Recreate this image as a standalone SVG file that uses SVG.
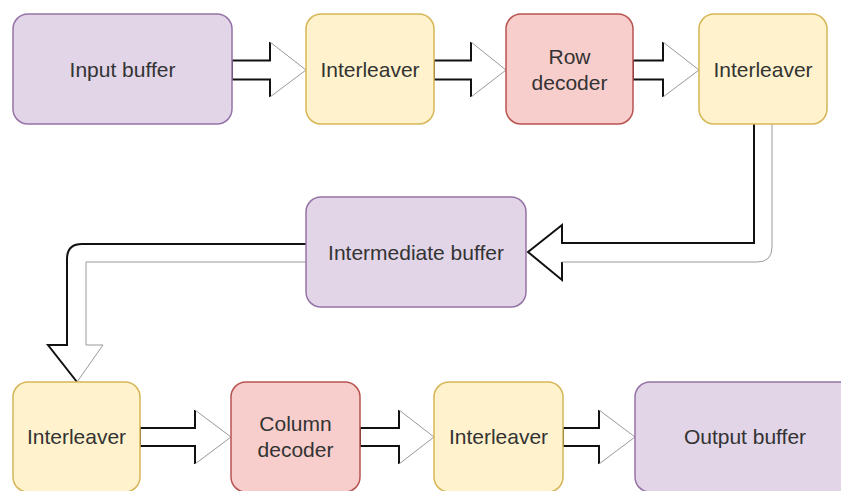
<svg xmlns="http://www.w3.org/2000/svg" width="841" height="491" viewBox="0 0 841 491">
  <style>
    .purple { fill: #e1d5e7; stroke: #9673a6; stroke-width: 1.5; }
    .yellow { fill: #fff2cc; stroke: #d6b656; stroke-width: 1.5; }
    .red { fill: #f8cecc; stroke: #b85450; stroke-width: 1.5; }
    .label { font-family: "Liberation Sans", Arial, sans-serif; font-size: 21px; fill: #333333; text-anchor: middle; }
    .body { fill: #ffffff; stroke: none; }
    .edge { fill: none; stroke: #111111; stroke-width: 2; stroke-linejoin: miter; }
    .soft { fill: none; stroke: #9a9a9a; stroke-width: 1; }
  </style>

  <!-- connectors: hollow block arrows -->
  <g id="connectors">
    <!-- Input buffer -> Interleaver -->
    <g id="a1">
      <path class="body" d="M232,60.5 H270 V42 L306,70 L270,97 V79.5 H232 Z"/>
      <path class="edge" d="M232,79.5 V60.5 H270 V42 M270,97 V79.5 H232"/>
      <path class="soft" d="M270,42 L306,70 L270,97"/>
    </g>
    <!-- Interleaver -> Row decoder -->
    <g id="a2">
      <path class="body" d="M434,60.5 H471 V42 L506,70 L471,97 V79.5 H434 Z"/>
      <path class="edge" d="M434,79.5 V60.5 H471 V42 M471,97 V79.5 H434"/>
      <path class="soft" d="M471,42 L506,70 L471,97"/>
    </g>
    <!-- Row decoder -> Interleaver -->
    <g id="a3">
      <path class="body" d="M633,60.5 H663 V42 L699,70 L663,97 V79.5 H633 Z"/>
      <path class="edge" d="M633,79.5 V60.5 H663 V42 M663,97 V79.5 H633"/>
      <path class="soft" d="M663,42 L699,70 L663,97"/>
    </g>
    <!-- Interleaver -> Intermediate buffer -->
    <g id="a4">
      <path class="body" d="M754,124 V243 H562 V225 L528,252 L562,280 V262 H757 Q772,262 772,247 V124 Z"/>
      <path class="edge" d="M754,124 V243 H562 V225 L528,252 L562,280 V262"/>
      <path class="soft" d="M562,262 H757 Q772,262 772,247 V124"/>
    </g>
    <!-- Intermediate buffer -> Interleaver -->
    <g id="a5">
      <path class="body" d="M306,244 H82 Q67,244 67,259 V345 H48 L77,382 L103,345 H86 V262 H306 Z"/>
      <path class="edge" d="M306,244 H82 Q67,244 67,259 V345 H48 L77,382"/>
      <path class="soft" d="M77,382 L103,345 H86 V262 H306"/>
    </g>
    <!-- Interleaver -> Column decoder -->
    <g id="a6">
      <path class="body" d="M140,428 H195 V410 L231,437 L195,464 V446 H140 Z"/>
      <path class="edge" d="M140,446 V428 H195 V410 M195,464 V446 H140"/>
      <path class="soft" d="M195,410 L231,437 L195,464"/>
    </g>
    <!-- Column decoder -> Interleaver -->
    <g id="a7">
      <path class="body" d="M360,428 H399 V410 L434,437 L399,464 V446 H360 Z"/>
      <path class="edge" d="M360,446 V428 H399 V410 M399,464 V446 H360"/>
      <path class="soft" d="M399,410 L434,437 L399,464"/>
    </g>
    <!-- Interleaver -> Output buffer -->
    <g id="a8">
      <path class="body" d="M563,428 H599 V410 L635,437 L599,464 V446 H563 Z"/>
      <path class="edge" d="M563,446 V428 H599 V410 M599,464 V446 H563"/>
      <path class="soft" d="M599,410 L635,437 L599,464"/>
    </g>
  </g>

  <!-- top row -->
  <g id="input-buffer">
    <rect class="purple" x="13" y="14" width="219" height="110" rx="15"/>
    <text class="label" x="122.5" y="77">Input buffer</text>
  </g>
  <g id="interleaver-1">
    <rect class="yellow" x="306" y="14" width="128" height="110" rx="15"/>
    <text class="label" x="370" y="77">Interleaver</text>
  </g>
  <g id="row-decoder">
    <rect class="red" x="506" y="14" width="127" height="110" rx="15"/>
    <text class="label" x="569.5" y="64">Row</text>
    <text class="label" x="569.5" y="90">decoder</text>
  </g>
  <g id="interleaver-2">
    <rect class="yellow" x="699" y="14" width="128" height="110" rx="15"/>
    <text class="label" x="763" y="77">Interleaver</text>
  </g>

  <!-- middle row -->
  <g id="intermediate-buffer">
    <rect class="purple" x="306" y="197" width="220" height="110" rx="15"/>
    <text class="label" x="416" y="260">Intermediate buffer</text>
  </g>

  <!-- bottom row -->
  <g id="interleaver-3">
    <rect class="yellow" x="13" y="382" width="127" height="110" rx="15"/>
    <text class="label" x="76.5" y="444">Interleaver</text>
  </g>
  <g id="column-decoder">
    <rect class="red" x="231" y="382" width="129" height="110" rx="15"/>
    <text class="label" x="295.5" y="431">Column</text>
    <text class="label" x="295.5" y="457">decoder</text>
  </g>
  <g id="interleaver-4">
    <rect class="yellow" x="434" y="382" width="129" height="110" rx="15"/>
    <text class="label" x="498.5" y="444">Interleaver</text>
  </g>
  <g id="output-buffer">
    <rect class="purple" x="635" y="382" width="220" height="110" rx="15"/>
    <text class="label" x="745" y="444">Output buffer</text>
  </g>
</svg>
